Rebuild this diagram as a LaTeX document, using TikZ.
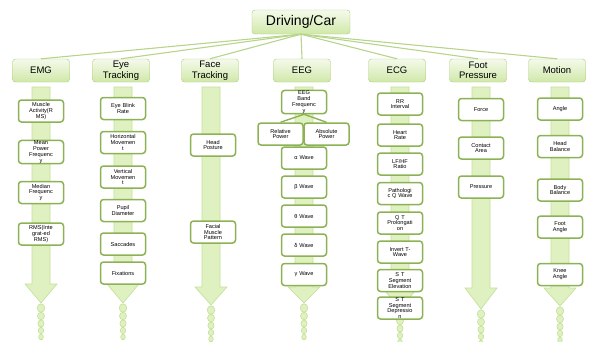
\documentclass[tikz,border=0pt]{standalone}
\usepackage{fontspec}
\setmainfont{Liberation Sans}
\usepackage{tikz}
\usetikzlibrary{positioning}

\definecolor{boxgreen}{HTML}{8DB255}
\definecolor{catedge}{HTML}{A9CB75}
\definecolor{catlight}{HTML}{F5FAEC}
\definecolor{catdark}{HTML}{D0E8A8}
\definecolor{bandfill}{HTML}{DFF1C0}
\definecolor{bandedge}{HTML}{C2E096}
\definecolor{linkgreen}{HTML}{B7D48B}

\begin{document}
\begin{tikzpicture}[x=1pt, y=-1pt,
  root/.style={draw=catedge, rounded corners=3pt, top color=catlight, bottom color=catdark, minimum width=98pt, minimum height=24pt, font=\fontsize{14}{16}\selectfont},
  cat/.style={draw=catedge, rounded corners=3pt, top color=catlight, bottom color=catdark, align=center, minimum width=57pt, minimum height=23pt, inner sep=1pt, font=\fontsize{9.5}{10.5}\selectfont},
  item/.style={draw=boxgreen, line width=1.5pt, fill=white, rounded corners=3pt, align=center, text width=42pt, minimum width=45pt, minimum height=22pt, inner xsep=1pt, inner ysep=0.3pt, font=\fontsize{5.6}{5.8}\selectfont},
  link/.style={draw=linkgreen, line width=1.1pt},
  band/.style={fill=bandfill, draw=bandedge, line width=0.6pt},
  bead/.style={fill=bandfill, draw=bandedge, line width=0.6pt}]
\useasboundingbox (0,0) rectangle (593,341);

% arrows with beads (x, head top, tip)
\foreach \cx/\ht/\tip in {41/284/303, 123/284/303, 211/287/305, 304/287/303, 400/290/308, 481/288/309, 560/288/306}{
  \path[band] (\cx-9,87) -- (\cx+9,87) -- (\cx+9,\ht) -- (\cx+16,\ht) -- (\cx,\tip) -- (\cx-16,\ht) -- (\cx-9,\ht) -- cycle;
  \path[bead] (\cx,\tip+5) ellipse (3.8 and 4.2);
  \path[bead] (\cx,\tip+13) ellipse (3.5 and 3.8);
  \path[bead] (\cx,\tip+20.5) ellipse (3.1 and 3.5);
  \path[bead] (\cx,\tip+27.5) ellipse (2.7 and 3.2);
  \path[bead] (\cx,\tip+34) ellipse (2.3 and 2.8);
}

% top levels
\node[root] (car) at (301,22) {Driving/Car};
\node[cat] (emg) at (41,70.5) {EMG};
\node[cat] (eye) at (121,70.5) {Eye\\Tracking};
\node[cat] (face) at (210,70.5) {Face\\Tracking};
\node[cat] (eeg) at (302,70.5) {EEG};
\node[cat] (ecg) at (397,70.5) {ECG};
\node[cat] (foot) at (478,70.5) {Foot\\Pressure};
\node[cat] (motion) at (557,70.5) {Motion};
\foreach \c in {emg,eye,face,eeg,ecg,foot,motion}
  \draw[link] (car.south) -- (\c.north);

% EMG
\node[item] (emg1) at (41,111) {Muscle\\Activity(R\\MS)};
\node[item] (emg2) at (41,152) {Mean\\Power\\Frequenc\\y};
\node[item] (emg3) at (41,192.5) {Median\\Frequenc\\y};
\node[item] (emg4) at (41,234) {RMS(Inte\\grat-ed\\RMS)};

% eye tracking
\node[item] (eye1) at (123,108.5) {Eye Blink\\Rate};
\node[item] (eye2) at (123,142.5) {Horizontal\\Movemen\\t};
\node[item] (eye3) at (123,177) {Vertical\\Movemen\\t};
\node[item] (eye4) at (123,210.5) {Pupil\\Diameter};
\node[item] (eye5) at (123,244) {Saccades};
\node[item] (eye6) at (123,273) {Fixations};

% face tracking
\node[item] (face1) at (213,145) {Head\\Posture};
\node[item] (face2) at (213,232) {Facial\\Muscle\\Pattern};

% EEG
\node[item] (band) at (304,102) {EEG\\Band\\Frequenc\\y};
\node[item] (rel) at (280.5,134) {Relative\\Power};
\node[item] (abs) at (326.5,134) {Absolute\\Power};
\draw[draw=boxgreen, line width=1.4pt] (band.south) -- (rel.north);
\draw[draw=boxgreen, line width=1.4pt] (band.south) -- (abs.north);
\node[item] (alpha) at (304,158) {α Wave};
\node[item] (beta) at (304,187) {β Wave};
\node[item] (theta) at (304,216) {θ Wave};
\node[item] (delta) at (304,245) {δ Wave};
\node[item] (gamma) at (304,274.5) {γ Wave};

% ECG
\node[item] (ecg1) at (400,104) {RR\\Interval};
\node[item] (ecg2) at (400,135) {Heart\\Rate};
\node[item] (ecg3) at (400,164) {LF/HF\\Ratio};
\node[item] (ecg4) at (400,193.5) {Pathologi\\c Q Wave};
\node[item] (ecg5) at (400,223) {Q T\\Prolongati\\on};
\node[item] (ecg6) at (400,252) {Invert T-\\Wave};
\node[item] (ecg7) at (400,280.5) {S T\\Segment\\Elevation};
\node[item] (ecg8) at (400,308) {S T\\Segment\\Depressio\\n};

% foot pressure
\node[item] (foot1) at (481,109.5) {Force};
\node[item] (foot2) at (481,148) {Contact\\Area};
\node[item] (foot3) at (481,187) {Pressure};

% motion
\node[item] (mot1) at (560,109) {Angle};
\node[item] (mot2) at (560,146.5) {Head\\Balance};
\node[item] (mot3) at (560,190) {Body\\Balance};
\node[item] (mot4) at (560,227) {Foot\\Angle};
\node[item] (mot5) at (560,274.5) {Knee\\Angle};
\end{tikzpicture}
\end{document}
